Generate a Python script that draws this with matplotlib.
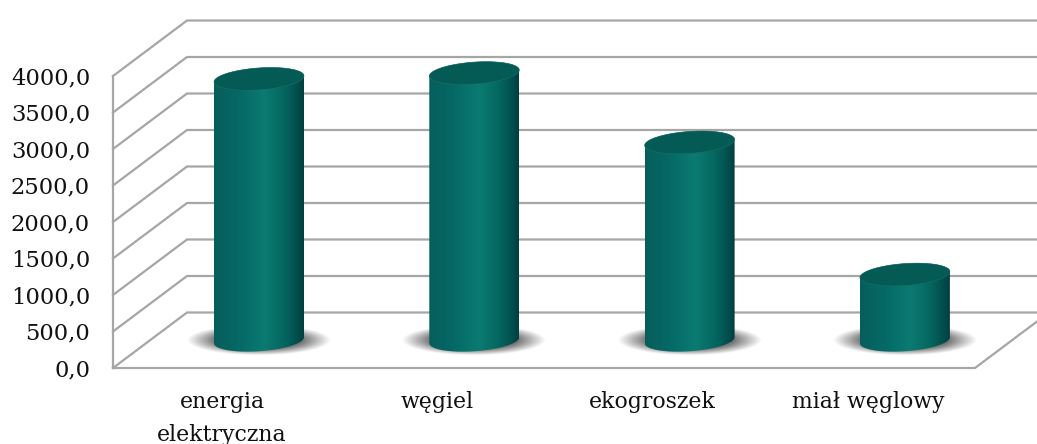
import matplotlib
matplotlib.use("Agg")
import matplotlib.pyplot as plt
import numpy as np
from matplotlib.colors import LinearSegmentedColormap
from matplotlib.patches import Polygon

categories = ["energia\nelektryczna", "węgiel", "ekogroszek", "miał węglowy"]
values = [3580, 3660, 2710, 900]
y_ticks = [0, 500, 1000, 1500, 2000, 2500, 3000, 3500, 4000]

W, H = 1037, 444
PX_X = 215.3       # px per category
PX_Y = 0.073       # px per value unit
X0, Y0 = 222, 368  # front position of category 0 / value 0
DX = 74 / PX_X     # depth of the 3d box
DY = 55.5 / PX_Y
BAR_W = 45 / PX_X  # half width
BAR_B = 11 / PX_Y  # half height of the ellipse
TILT = 0.067 * PX_X / PX_Y
GRID = "#a6a6a6"
FONT = "DejaVu Serif"

body_cmap = LinearSegmentedColormap.from_list(
    "body", [(0, "#075e5c"), (0.3, "#056a66"), (0.56, "#0b7b72"),
             (0.78, "#04675f"), (0.92, "#024f4e"), (1, "#013f40")])

fig = plt.figure(figsize=(W / 100, H / 100), dpi=100)
ax = fig.add_axes([0, 0, 1, 1])
xlim = (-X0 / PX_X, (W - X0) / PX_X)
ylim = ((Y0 - H) / PX_Y, Y0 / PX_Y)
ax.axis("off")


def ellipse(cx, cy, t):
    u = np.cos(t)
    return cx + BAR_W * u, cy + BAR_B * np.sin(t) + TILT * BAR_W * u


# box: back and side lines
left, right = xlim[0] + 113 / PX_X, xlim[0] + 975 / PX_X
for v in y_ticks:
    ax.plot([left, left + DX, right + DX], [v, v + DY, v + DY],
            color=GRID, lw=1.6, solid_joinstyle="miter", zorder=1)
ax.plot([left, left], [0, y_ticks[-1]], color=GRID, lw=1.6, zorder=1)
ax.plot([left, right, right + DX], [0, 0, DY], color=GRID, lw=1.6,
        solid_joinstyle="miter", zorder=1)

# tick labels
for v in y_ticks:
    ax.text(xlim[0] + 90 / PX_X, v - 30, f"{v:.1f}".replace(".", ","), ha="right",
            va="center", family=FONT, fontsize=16.3, color="#111111")

for i, (name, val) in enumerate(zip(categories, values)):
    cx, base = i + DX / 2, DY / 2

    # soft floor shadow
    sx, sy = np.meshgrid(np.linspace(-1.5, 1.5, 200), np.linspace(-1.5, 1.5, 100))
    r = np.sqrt(sx ** 2 + sy ** 2)
    alpha = np.clip((1.15 - r) / 0.45, 0, 1) * 0.8
    rgba = np.zeros(r.shape + (4,))
    rgba[..., :3] = 0.32
    rgba[..., 3] = alpha
    ax.imshow(rgba, extent=(cx - 94 / PX_X, cx + 94 / PX_X, base - 20 / PX_Y, base + 20 / PX_Y),
              aspect="auto", origin="lower", zorder=2, interpolation="bilinear")

    # cylinder body
    low = np.c_[ellipse(cx, base, np.linspace(np.pi, 2 * np.pi, 60))]
    high = np.c_[ellipse(cx, base + val, np.linspace(0, np.pi, 60))]
    grad = np.linspace(0, 1, 256).reshape(1, -1)
    im = ax.imshow(grad, cmap=body_cmap, aspect="auto", zorder=3,
                   extent=(cx - BAR_W, cx + BAR_W, base - 2 * BAR_B, base + val + 2 * BAR_B))
    patch = Polygon(np.r_[low, high], closed=True, transform=ax.transData, fc="none", ec="none")
    ax.add_patch(patch)
    im.set_clip_path(patch)

    # top face
    ex, ey = ellipse(cx, base + val, np.linspace(0, 2 * np.pi, 120))
    ax.fill(ex, ey, color="#045a54", zorder=4, lw=0.4, ec="#1f6f6a")

    # category label
    ax.text(i, -23 / PX_Y, name, ha="center", va="top", family=FONT, fontsize=15.8,
            linespacing=1.65, color="#111111")

ax.set_xlim(xlim)
ax.set_ylim(ylim)
fig.savefig("out.png", dpi=100)
